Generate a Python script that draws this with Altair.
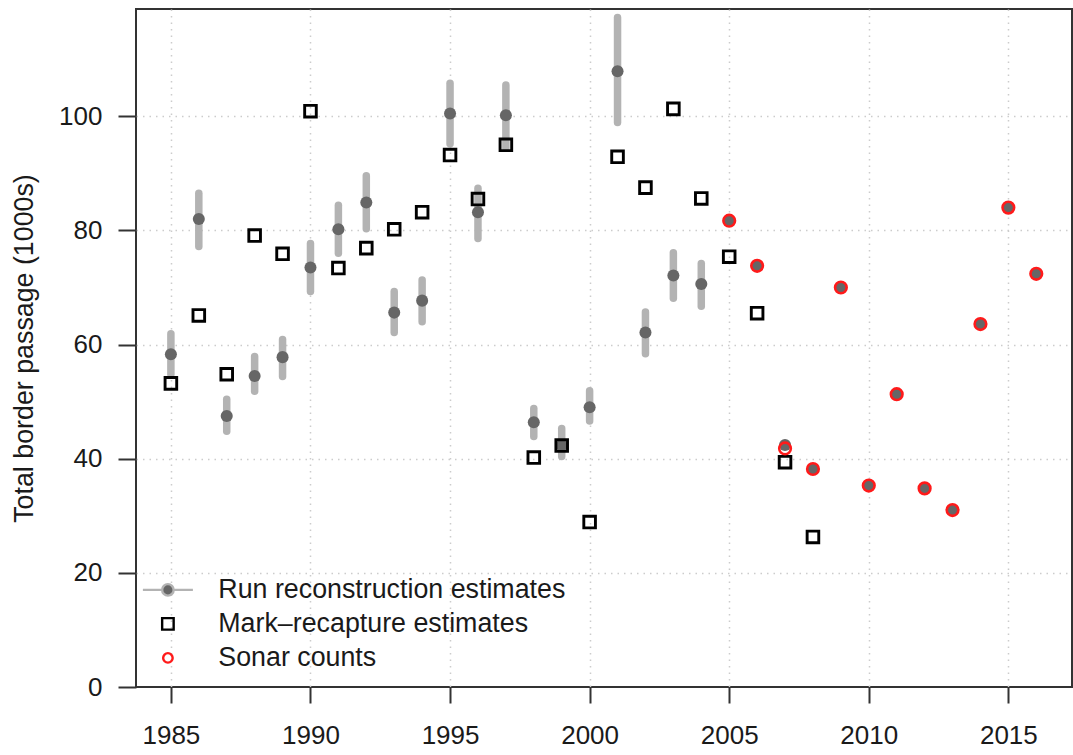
import altair as alt
import pandas as pd

# Run reconstruction estimates with their interval bounds (thousands of fish)
run_years = list(range(1985, 2017))
run_est = [58.3, 82.0, 47.5, 54.5, 57.8, 73.5, 80.2, 84.9, 65.6, 67.7,
           100.5, 83.2, 100.2, 46.4, 42.3, 49.0, 107.9, 62.1, 72.1, 70.6,
           81.7, 73.8, 42.4, 38.2, 70.0, 35.3, 51.3, 34.8, 31.0, 63.6, 84.0, 72.4]
ci_years = list(range(1985, 2005))
ci_lo = [54.8, 77.2, 44.8, 51.8, 54.4, 69.3, 76.0, 80.3, 62.1, 64.0,
         95.2, 78.6, 94.4, 43.9, 40.4, 46.6, 98.9, 58.4, 68.1, 66.7]
ci_hi = [61.9, 86.5, 50.4, 57.9, 60.9, 77.7, 84.4, 89.6, 69.3, 71.3,
         105.8, 87.4, 105.5, 48.8, 45.3, 51.9, 117.3, 65.7, 76.1, 74.2]

# Mark-recapture estimates
mr_years = list(range(1985, 2009))
mr_est = [53.2, 65.1, 54.8, 79.1, 75.9, 100.9, 73.4, 76.9, 80.2, 83.2,
          93.2, 85.5, 95.0, 40.2, 42.3, 28.9, 92.9, 87.5, 101.3, 85.6,
          75.4, 65.5, 39.4, 26.3]

# Sonar counts
sonar_years = list(range(2005, 2017))
sonar_cnt = [81.7, 73.8, 41.8, 38.2, 70.0, 35.3, 51.3, 34.8, 31.0, 63.6, 84.0, 72.4]

series = ["Run reconstruction estimates", "Mark\u2013recapture estimates", "Sonar counts"]
x_ticks = [1985, 1990, 1995, 2000, 2005, 2010, 2015]
y_ticks = [0, 20, 40, 60, 80, 100]

run_df = pd.DataFrame({"year": run_years, "est": run_est})
ci_df = pd.DataFrame({"year": ci_years, "lo": ci_lo, "hi": ci_hi})
mr_df = pd.DataFrame({"year": mr_years, "est": mr_est})
sonar_df = pd.DataFrame({"year": sonar_years, "est": sonar_cnt})
legend_df = pd.DataFrame({"series": series})

FONT = "Liberation Sans"
TEXT = "#1a1a1a"
GRID = "#cccccc"

x_scale = alt.Scale(domain=[1983.75, 2017.28], nice=False, zero=False)
y_scale = alt.Scale(domain=[0, 118.8], nice=False, zero=False)

x_enc = alt.X("year:Q", scale=x_scale,
              axis=alt.Axis(values=x_ticks, format="d", title=None,
                            tickSize=16, labelPadding=19))
y_enc = alt.Y("est:Q", scale=y_scale,
              axis=alt.Axis(values=y_ticks, title="Total border passage (1000s)",
                            tickSize=18, labelPadding=16, titlePadding=20,
                            titleFontSize=26.8,
                            gridColor={"condition": {"test": "datum.value === 0", "value": "transparent"},
                                       "value": GRID}))

bars = alt.Chart(ci_df).mark_rule(
    color="#b3b3b3", strokeWidth=7.5, strokeCap="round"
).encode(x=x_enc, y=alt.Y("lo:Q", scale=y_scale), y2="hi:Q")

dots = alt.Chart(run_df).mark_circle(
    color="#666666", size=145, opacity=1
).encode(x=x_enc, y=y_enc)

squares = alt.Chart(mr_df).mark_point(
    shape="square", filled=False, stroke="black", strokeWidth=2.9, size=135, opacity=1
).encode(x=x_enc, y=y_enc)

sonar = alt.Chart(sonar_df).mark_point(
    shape="circle", filled=False, stroke="#ff1a1a", strokeWidth=2.6, size=135, opacity=1
).encode(x=x_enc, y=y_enc)

# Legend symbols: dot on a line, open square, open circle
run_sym = ("M-5,0L-1.15,0M1.15,0L5,0"
           "M1.15,0A1.15,1.15,0,1,1,-1.15,0A1.15,1.15,0,1,1,1.15,0Z")
sq_sym = "M-1.15,-1.15H1.15V1.15H-1.15Z"
circ_sym = "M0.95,0A0.95,0.95,0,1,1,-0.95,0A0.95,0.95,0,1,1,0.95,0Z"

leg = alt.Legend(title=None, orient="none", legendX=18.5, legendY=567.5,
                 symbolSize=100, symbolStrokeWidth=2.4, symbolOpacity=1,
                 labelFontSize=26.8, labelFont=FONT, labelColor=TEXT,
                 labelOffset=37, rowPadding=6, padding=0, labelLimit=600)

legend_layer = alt.Chart(legend_df).transform_filter("false").mark_point().encode(
    shape=alt.Shape("series:N", scale=alt.Scale(domain=series, range=[run_sym, sq_sym, circ_sym]), legend=leg),
    fill=alt.Fill("series:N", scale=alt.Scale(domain=series, range=["#666666", "transparent", "transparent"]), legend=leg),
    stroke=alt.Stroke("series:N", scale=alt.Scale(domain=series, range=["#b3b3b3", "black", "#ff1a1a"]), legend=leg),
)

chart = alt.layer(bars, dots, squares, sonar, legend_layer).properties(
    width=936, height=678,
    autosize=alt.AutoSizeParams(type="none"),
    padding={"left": 136, "top": 9, "right": 1, "bottom": 68},
).configure_view(
    stroke="#333333", strokeWidth=2
).configure_axis(
    labelFont=FONT, labelFontSize=26, labelColor=TEXT,
    titleFont=FONT, titleFontSize=26.8, titleColor=TEXT, titleFontWeight="normal",
    domain=False, tickColor="#333333", tickWidth=2,
    grid=True, gridColor=GRID, gridDash=[1.5, 5], gridWidth=1.5,
)

chart.save("out.html", embed_options={"renderer": "svg", "actions": False})
